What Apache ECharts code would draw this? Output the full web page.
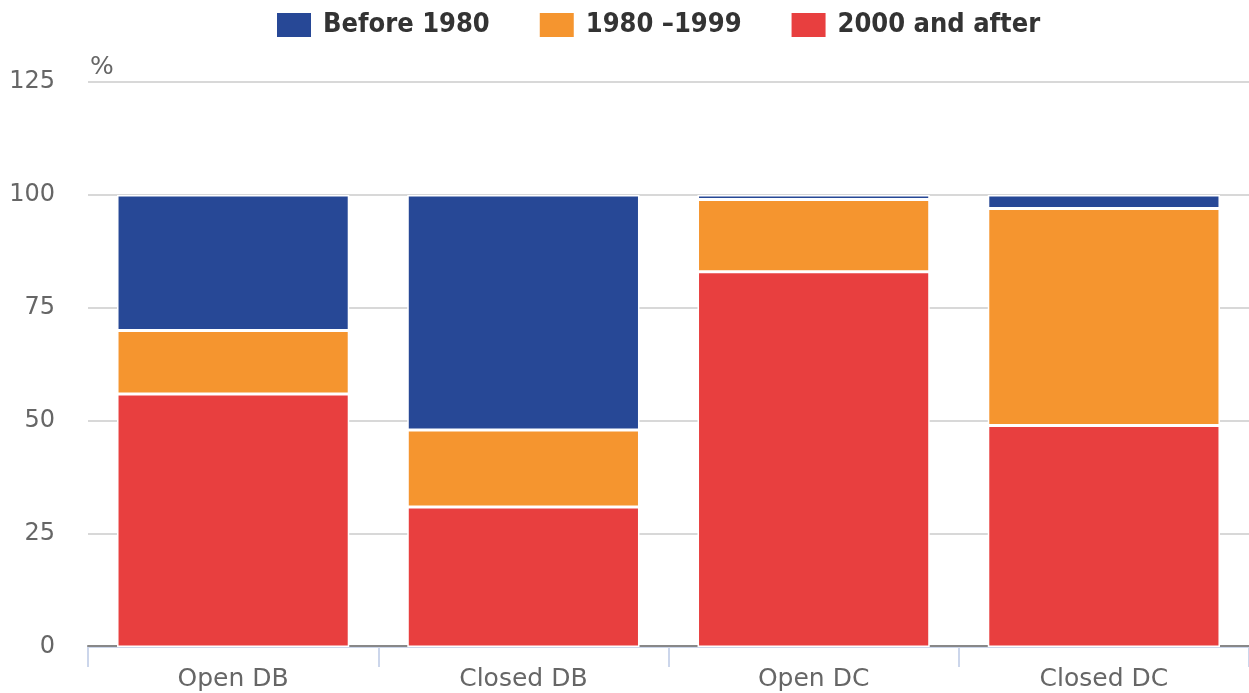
<!DOCTYPE html>
<html>
<head>
<meta charset="utf-8">
<script src="https://cdn.jsdelivr.net/npm/echarts@6/dist/echarts.min.js"></script>
<style>
  html, body { margin: 0; padding: 0; background: #fff; }
  #chart { width: 1249px; height: 693px; }
</style>
</head>
<body>
<div id="chart"></div>
<script>
// categories and stacked shares (%)
var categories = ['Open DB', 'Closed DB', 'Open DC', 'Closed DC'];
var after2000 = [56, 31, 83, 49];
var from1980to1999 = [14, 17, 16, 48];
var before1980 = [30, 52, 1, 3];
var yTicks = [0, 25, 50, 75, 100, 125];

var chart = echarts.init(document.getElementById('chart'));

function barSeries(name, data, color) {
  return {
    name: name,
    type: 'bar',
    stack: 'total',
    data: data,
    z: 5,
    barCategoryGap: '20%',
    itemStyle: { color: color, borderColor: '#ffffff', borderWidth: 1.5 }
  };
}

chart.setOption({
  animation: false,
  textStyle: { fontFamily: 'DejaVu Sans' },
  legend: {
    top: 6,
    left: 270,
    itemWidth: 36,
    itemHeight: 26,
    itemGap: 48,
    icon: 'rect',
    data: ['Before 1980', '1980 \u20131999', '2000 and after'],
    textStyle: {
      fontFamily: 'DejaVu Sans Condensed',
      fontWeight: 'bold',
      fontSize: 27,
      color: '#333333',
      padding: [0, 0, 0, 6]
    }
  },
  grid: { left: 88, right: 0, top: 82, bottom: 46 },
  xAxis: [{
    type: 'category',
    data: categories,
    offset: 2,
    axisLine: { lineStyle: { color: '#ccd6eb', width: 2 } },
    axisTick: { show: true, length: 20, lineStyle: { color: '#ccd6eb', width: 2 } },
    axisLabel: { color: '#666666', fontSize: 25, margin: 18 }
  }, {
    // darker zero line, mostly hidden under the bars
    type: 'category',
    data: categories,
    position: 'bottom',
    offset: -1,
    z: 0,
    axisLine: { lineStyle: { color: '#888888', width: 2 } },
    axisTick: { show: false },
    axisLabel: { show: false }
  }],
  yAxis: {
    type: 'value',
    min: yTicks[0],
    max: yTicks[yTicks.length - 1],
    interval: 25,
    name: '%',
    nameLocation: 'end',
    nameGap: 2,
    nameTextStyle: { color: '#666666', fontSize: 25, align: 'left', padding: [0, 0, 0, 2] },
    axisLine: { show: false },
    axisTick: { show: false },
    axisLabel: { color: '#666666', fontSize: 24, margin: 33 },
    splitLine: { lineStyle: { color: '#d8d8d8', width: 2 } }
  },
  series: [
    barSeries('2000 and after', after2000, '#e83f3f'),
    barSeries('1980 \u20131999', from1980to1999, '#f5952f'),
    barSeries('Before 1980', before1980, '#274896')
  ]
});
</script>
</body>
</html>
